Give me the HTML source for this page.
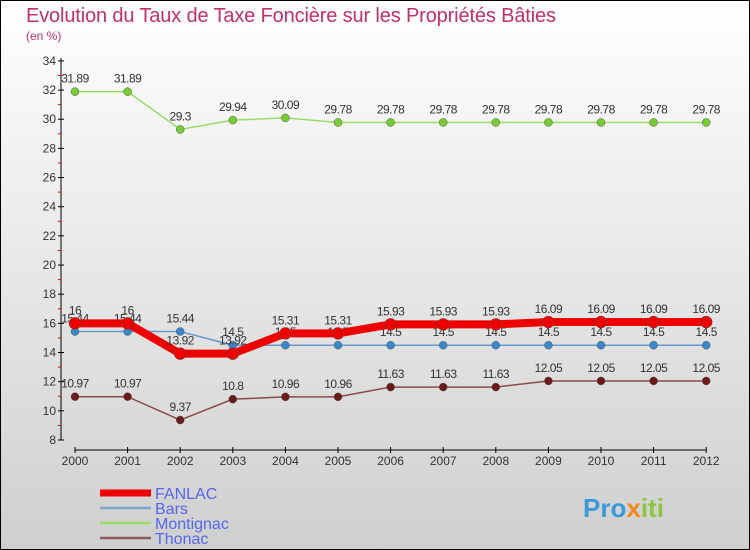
<!DOCTYPE html>
<html><head><meta charset="utf-8"><style>
body{margin:0}
svg{display:block;font-family:"Liberation Sans",sans-serif}
</style></head><body>
<svg width="750" height="550" viewBox="0 0 750 550" id="c">
<defs><linearGradient id="bg" x1="0" y1="0" x2="0" y2="1"><stop offset="0" stop-color="#ffffff"/><stop offset="1" stop-color="#cfcfcf"/></linearGradient></defs>
<rect x="0.5" y="0.5" width="749" height="549" fill="url(#bg)" stroke="#000"/>
<text x="26" y="22" font-size="20" fill="#c0306a" textLength="530">Evolution du Taux de Taxe Foncière sur les Propriétés Bâties</text>
<text x="26" y="40" font-size="12" fill="#c0306a">(en %)</text>
<g id="axes"></g><g id="series"></g><g id="legend"></g>
<text x="583" y="517" font-size="26" font-weight="bold" fill="#3a9ad8">Pro<tspan fill="#f08a1c">x</tspan><tspan fill="#8cc63f">iti</tspan></text>
</svg>
<script>
const years=[2000,2001,2002,2003,2004,2005,2006,2007,2008,2009,2010,2011,2012];
const yTicks=[8,10,12,14,16,18,20,22,24,26,28,30,32,34];
const fanlac=[16,16,13.92,13.92,15.31,15.31,15.93,15.93,15.93,16.09,16.09,16.09,16.09];
const bars=[15.44,15.44,15.44,14.5,14.5,14.5,14.5,14.5,14.5,14.5,14.5,14.5,14.5];
const montignac=[31.89,31.89,29.3,29.94,30.09,29.78,29.78,29.78,29.78,29.78,29.78,29.78,29.78];
const thonac=[10.97,10.97,9.37,10.8,10.96,10.96,11.63,11.63,11.63,12.05,12.05,12.05,12.05];
const NS='http://www.w3.org/2000/svg';
const xs=i=>75+i*52.6;
const ys=v=>440-(v-8)*14.58;
function mk(t,a,p){const e=document.createElementNS(NS,t);for(const k in a)e.setAttribute(k,a[k]);p.appendChild(e);return e;}
const ax=document.getElementById('axes');
let e=mk('line',{x1:61,y1:58,x2:61,y2:440,stroke:'#000'},ax);


e=mk('line',{x1:75,y1:450,x2:706,y2:450,stroke:'#000'},ax);


yTicks.forEach(v=>{
 mk('line',{x1:58,y1:ys(v),x2:64,y2:ys(v),stroke:'#000'},ax);
 if(v<34)mk('line',{x1:58,y1:ys(v+1),x2:61,y2:ys(v+1),stroke:'#e00'},ax);
 const t=mk('text',{x:56,y:ys(v)+4,'font-size':12,'text-anchor':'end',fill:'#333'},ax);t.textContent=v;
 
 
});
years.forEach((y,i)=>{
 mk('line',{x1:xs(i),y1:447,x2:xs(i),y2:453,stroke:'#000'},ax);
 const t=mk('text',{x:xs(i),y:465,'font-size':12,'text-anchor':'middle',fill:'#333'},ax);t.textContent=y;
 
 
});
const sg=document.getElementById('series');
const S=[
 {n:'montignac',d:montignac,c:'#99dd66',dot:'#77cc33',w:1.5,r:4},
 {n:'thonac',d:thonac,c:'#8a4a4a',dot:'#6a1a1a',w:1.5,r:4},
 {n:'bars',d:bars,c:'#6699cc',dot:'#3a88cc',w:1.5,r:4},
 {n:'fanlac',d:fanlac,c:'#ee0000',dot:'#ee0000',w:8,r:6}
];
S.forEach(s=>{
 const g=mk('g',{},sg);
 
 
 const l=mk('polyline',{points:s.d.map((v,i)=>xs(i)+','+ys(v)).join(' '),fill:'none',stroke:s.c,'stroke-width':s.w},g);
 
 
 s.d.forEach((v,i)=>{
  const c=mk('circle',{cx:xs(i),cy:ys(v),r:s.r,fill:s.dot,stroke:'#555','stroke-width':0.5},g);
  
  
  const t=mk('text',{x:xs(i),y:ys(v)-9,'font-size':12,'text-anchor':'middle',fill:'#333','letter-spacing':'-0.5'},g);
  t.textContent=v;
  
  
 });
});
const lg=document.getElementById('legend');
[['FANLAC','#ee0000',7],['Bars','#7aa8cc',2.5],['Montignac','#99dd66',2.5],['Thonac','#8a5a5a',2.5]].forEach((it,i)=>{
 const y=493+i*15;
 const l=mk('line',{x1:100,y1:y,x2:151,y2:y,stroke:it[1],'stroke-width':it[2]},lg);
 
 
 const t=mk('text',{x:155,y:y+6,'font-size':16,fill:'#5566ee'},lg);t.textContent=it[0];
 
 
});
</script>
</body></html>
